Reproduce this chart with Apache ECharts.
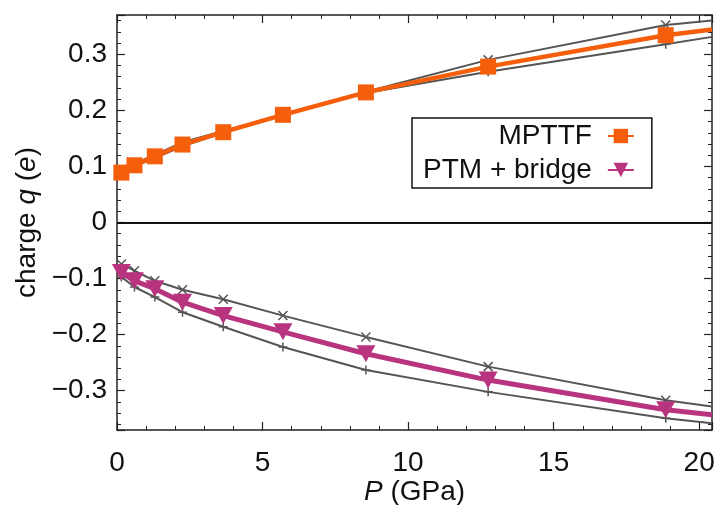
<!DOCTYPE html>
<html>
<head>
<meta charset="utf-8">
<script src="https://cdn.jsdelivr.net/npm/echarts@6/dist/echarts.min.js"></script>
<style>
html,body{margin:0;padding:0;background:#fff;}
#chart{width:716px;height:505px;}
</style>
</head>
<body>
<div id="chart"></div>
<script>
// Pressure values (GPa) of the data points
const pressure = [0.15, 0.6, 1.3, 2.25, 3.65, 5.7, 8.55, 12.75, 18.85];
// where the curves leave the plot at the right border
const pressureEdge = 20.44;

// MPTTF charge
const mpttf     = [0.089, 0.102, 0.118, 0.139, 0.161, 0.192, 0.232, 0.278, 0.334];
const mpttfEdge = 0.344;
const mpttfUp   = [0.092, 0.105, 0.121, 0.143, 0.163, 0.193, 0.233, 0.290, 0.352];
const mpttfUpEdge = 0.360;
const mpttfLo   = [0.087, 0.100, 0.115, 0.136, 0.160, 0.192, 0.231, 0.269, 0.318];
const mpttfLoEdge = 0.331;

// PTM + bridge charge
const ptm     = [-0.089, -0.104, -0.118, -0.142, -0.166, -0.195, -0.234, -0.281, -0.334];
const ptmEdge = -0.343;
const ptmUp   = [-0.074, -0.086, -0.104, -0.120, -0.137, -0.166, -0.204, -0.257, -0.317];
const ptmUpEdge = -0.328;
const ptmLo   = [-0.097, -0.115, -0.133, -0.160, -0.186, -0.222, -0.263, -0.302, -0.349];
const ptmLoEdge = -0.358;

const seriesNames = ['MPTTF', 'PTM + bridge'];

const xMin = 0, xMax = 20.44, yMin = -0.37, yMax = 0.37;

function build(vals, edge) {
  return pressure.map((p, i) => [p, vals[i]]).concat([{ value: [pressureEdge, edge], symbol: 'none' }]);
}

const FONT = 'Liberation Sans, Arial, sans-serif';
const FS = 28;
const ORANGE = '#f55f0c';
const MAGENTA = '#b8347f';
const GRAY = '#555555';
const CROSS = 'path://M0,0L10,10M10,0L0,10';
const PLUS = 'path://M5,0L5,10M0,5L10,5';
const TRI_DOWN = 'path://M0,0L10,0L5,9Z';

function fmtY(v) {
  const r = Math.round(v * 10) / 10;
  if (Math.abs(v - r) > 1e-6 || Math.abs(v) > 0.35) return '';
  if (r === 0) return '0';
  return (r < 0 ? '\u2212' : '') + Math.abs(r).toFixed(1);
}
function fmtX(v) {
  if (Math.abs(v - Math.round(v)) > 1e-6 || v > 20.01) return '';
  return String(Math.round(v));
}

const axisLineStyle = { color: '#222', width: 1.5 };
const tickStyle = { show: true, inside: true, length: 8, lineStyle: { color: '#222', width: 1.2 } };
const minorStyle = { show: true, splitNumber: 5, length: 4, lineStyle: { color: '#222', width: 1 } };

const grayLine = (name, data, sym) => ({
  name: name,
  type: 'line',
  data: data,
  symbol: sym,
  symbolSize: 9,
  showAllSymbol: true,
  lineStyle: { color: GRAY, width: 2 },
  itemStyle: { color: GRAY, borderColor: GRAY, borderWidth: 1.5 },
  z: 2,
  silent: true,
  animation: false
});

const option = {
  animation: false,
  grid: { left: 117, right: 4, top: 15, bottom: 75, containLabel: false, outerBoundsMode: 'none' },
  xAxis: [
    {
      type: 'value', min: xMin, max: xMax, interval: 5,
      position: 'bottom',
      name: '{i|P} (GPa)', nameLocation: 'middle', nameGap: 48, nameMoveOverlap: false,
      nameTextStyle: { fontFamily: FONT, fontSize: FS, color: '#111',
        rich: { i: { fontStyle: 'italic', fontFamily: FONT, fontSize: FS, color: '#111' } } },
      axisLine: { show: true, onZero: false, lineStyle: axisLineStyle },
      axisTick: tickStyle,
      minorTick: minorStyle,
      axisLabel: { fontFamily: FONT, fontSize: FS, color: '#111', margin: 19, formatter: fmtX },
      splitLine: { show: false }
    },
    {
      type: 'value', min: xMin, max: xMax, interval: 5,
      position: 'top',
      axisLine: { show: true, onZero: false, lineStyle: axisLineStyle },
      axisTick: tickStyle,
      minorTick: minorStyle,
      axisLabel: { show: false },
      splitLine: { show: false }
    }
  ],
  yAxis: [
    {
      type: 'value', min: yMin, max: yMax, splitNumber: 7,
      position: 'left',
      name: 'charge {i|q} ({i|e})', nameLocation: 'middle', nameGap: 72,
      nameTextStyle: { fontFamily: FONT, fontSize: FS, color: '#111',
        rich: { i: { fontStyle: 'italic', fontFamily: FONT, fontSize: FS, color: '#111' } } },
      axisLine: { show: true, onZero: false, lineStyle: axisLineStyle },
      axisTick: tickStyle,
      minorTick: minorStyle,
      axisLabel: { fontFamily: FONT, fontSize: FS, color: '#111', margin: 10, formatter: fmtY },
      splitLine: { show: false }
    },
    {
      type: 'value', min: yMin, max: yMax, splitNumber: 7,
      position: 'right',
      axisLine: { show: true, onZero: false, lineStyle: axisLineStyle },
      axisTick: tickStyle,
      minorTick: minorStyle,
      axisLabel: { show: false },
      splitLine: { show: false }
    }
  ],
  legend: {
    data: seriesNames,
    orient: 'vertical',
    left: 412, top: 118,
    align: 'right',
    itemWidth: 26, itemHeight: 18, itemGap: 6,
    padding: [4, 17, 4, 11],
    backgroundColor: '#fff',
    borderColor: '#111', borderWidth: 1.5, borderRadius: 0,
    formatter: '{t|{name}}',
    textStyle: { fontFamily: FONT, fontSize: FS, color: '#111',
      rich: { t: { padding: [0, 11, 0, 0], fontFamily: FONT, fontSize: FS, color: '#111' } } },
    selectedMode: false
  },
  series: [
    grayLine('mpttf-upper', build(mpttfUp, mpttfUpEdge), CROSS),
    grayLine('mpttf-lower', build(mpttfLo, mpttfLoEdge), PLUS),
    grayLine('ptm-upper', build(ptmUp, ptmUpEdge), CROSS),
    grayLine('ptm-lower', build(ptmLo, ptmLoEdge), PLUS),
    {
      name: seriesNames[0],
      type: 'line',
      data: build(mpttf, mpttfEdge),
      symbol: 'rect', symbolSize: 16,
      showAllSymbol: true,
      lineStyle: { color: ORANGE, width: 4.5 },
      itemStyle: { color: ORANGE, borderWidth: 0 },
      z: 4,
      markLine: {
        silent: true, symbol: 'none', label: { show: false },
        lineStyle: { color: '#111', width: 2, type: 'solid' },
        data: [{ yAxis: 0 }]
      }
    },
    {
      name: seriesNames[1],
      type: 'line',
      data: build(ptm, ptmEdge),
      symbol: TRI_DOWN, symbolSize: [19, 17],
      showAllSymbol: true,
      lineStyle: { color: MAGENTA, width: 5 },
      itemStyle: { color: MAGENTA, borderWidth: 0 },
      z: 4
    }
  ]
};

const chart = echarts.init(document.getElementById('chart'), null, { renderer: 'canvas' });
chart.setOption(option);
</script>
</body>
</html>
